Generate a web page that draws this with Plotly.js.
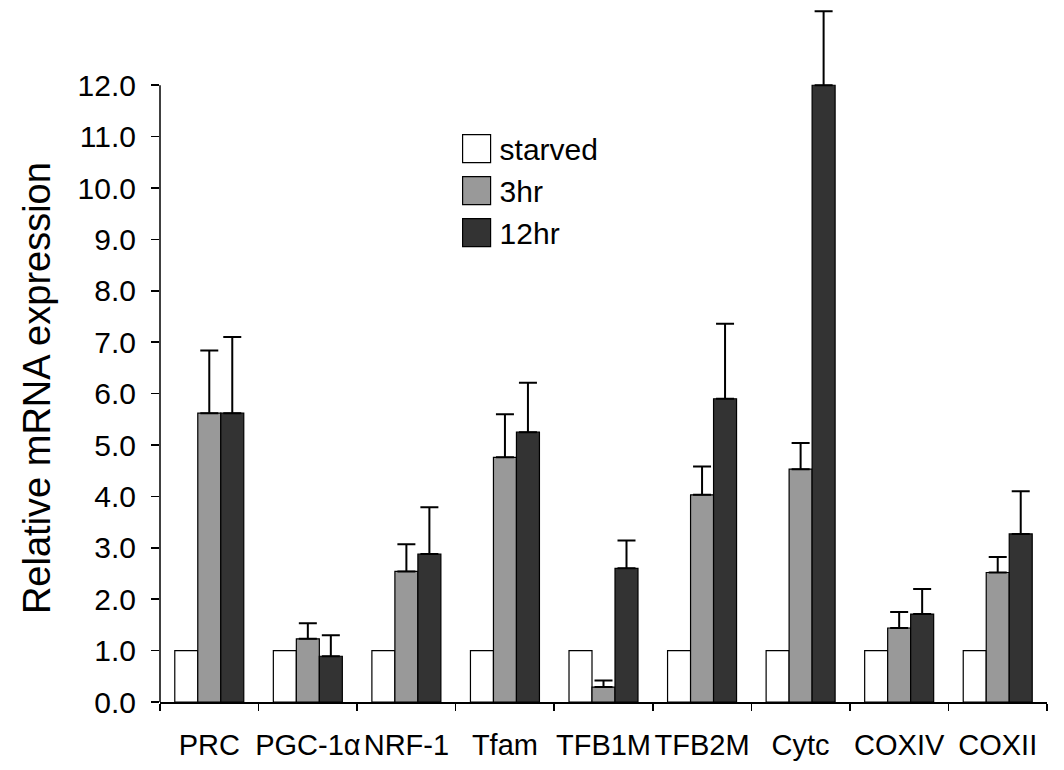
<!DOCTYPE html>
<html>
<head>
<meta charset="utf-8">
<script src="https://cdn.plot.ly/plotly-3.0.1.min.js"></script>
<style>html,body{margin:0;padding:0;background:#fff;}</style>
</head>
<body>
<div id="chart" style="width:1064px;height:770px;"></div>
<script>
const categories = ["PRC", "PGC-1\u03b1", "NRF-1", "Tfam", "TFB1M", "TFB2M", "Cytc", "COXIV", "COXII"];
const seriesNames = ["starved", "3hr", "12hr"];
const starved = [1.0, 1.0, 1.0, 1.0, 1.0, 1.0, 1.0, 1.0, 1.0];
const hr3 = [5.62, 1.23, 2.54, 4.76, 0.29, 4.03, 4.53, 1.44, 2.52];
const hr3Err = [1.22, 0.30, 0.53, 0.84, 0.13, 0.55, 0.51, 0.31, 0.30];
const hr12 = [5.62, 0.89, 2.88, 5.25, 2.60, 5.90, 12.0, 1.71, 3.27];
const hr12Err = [1.48, 0.41, 0.91, 0.96, 0.54, 1.46, 1.44, 0.49, 0.83];
const yTickVals = [0, 1, 2, 3, 4, 5, 6, 7, 8, 9, 10, 11, 12];
const yTitle = "Relative mRNA expression";

const font = "Liberation Sans, Arial, sans-serif";
const errStyle = {type: "data", symmetric: false, color: "#000", thickness: 2, width: 9};

const traces = [
  {type: "bar", name: seriesNames[0], x: categories, y: starved,
   marker: {color: "#ffffff", line: {color: "#000", width: 1.2}}},
  {type: "bar", name: seriesNames[1], x: categories, y: hr3,
   marker: {color: "#999999", line: {color: "#000", width: 1.2}},
   error_y: Object.assign({}, errStyle, {array: hr3Err, arrayminus: hr3Err.map(() => 0)})},
  {type: "bar", name: seriesNames[2], x: categories, y: hr12,
   marker: {color: "#333333", line: {color: "#000", width: 1.2}},
   error_y: Object.assign({}, errStyle, {array: hr12Err, arrayminus: hr12Err.map(() => 0)})}
];

const layout = {
  width: 1064, height: 770,
  margin: {l: 160, r: 17, t: 3, b: 68},
  paper_bgcolor: "#fff", plot_bgcolor: "#fff",
  font: {family: font, color: "#000", size: 28},
  barmode: "group", bargap: 0.30, bargroupgap: 0,
  showlegend: true,
  legend: {x: 0.331, y: 0.829, xanchor: "left", yanchor: "top",
           font: {family: font, size: 30, color: "#000"},
           itemwidth: 36, bgcolor: "rgba(0,0,0,0)", traceorder: "normal"},
  xaxis: {type: "category", range: [-0.5, 8.5], showline: true, linecolor: "#000", linewidth: 1.5,
          ticks: "outside", tickson: "boundaries", ticklen: 7, tickwidth: 1.5, tickcolor: "#000",
          showgrid: false, zeroline: false, tickangle: 0, automargin: false,
          tickfont: {family: font, size: 29, color: "#000"},
          ticklabelstandoff: 17},
  yaxis: {range: [0, 13.6], tickvals: yTickVals, tickformat: ".1f", showline: false,
          ticks: "outside", ticklen: 8, tickwidth: 1.5, tickcolor: "#000",
          showgrid: false, zeroline: false, automargin: false,
          tickfont: {family: font, size: 30, color: "#000"},
          ticklabelstandoff: 9},
  shapes: [{type: "line", xref: "paper", yref: "y", x0: 0, x1: 0, y0: 0, y1: yTickVals[yTickVals.length - 1],
            line: {color: "#000", width: 1.5}}],
  annotations: [{text: yTitle, xref: "paper", yref: "y", x: -0.138, y: 6.1, textangle: -90,
                 showarrow: false, xanchor: "center", yanchor: "middle",
                 font: {family: font, size: 38, color: "#000"}}]
};

Plotly.newPlot("chart", traces, layout, {staticPlot: true}).then(function () {
  document.querySelectorAll(".legendpoints path").forEach(function (p) {
    p.setAttribute("d", "M14,14H-14V-14H14Z");
  });
});
</script>
</body>
</html>
